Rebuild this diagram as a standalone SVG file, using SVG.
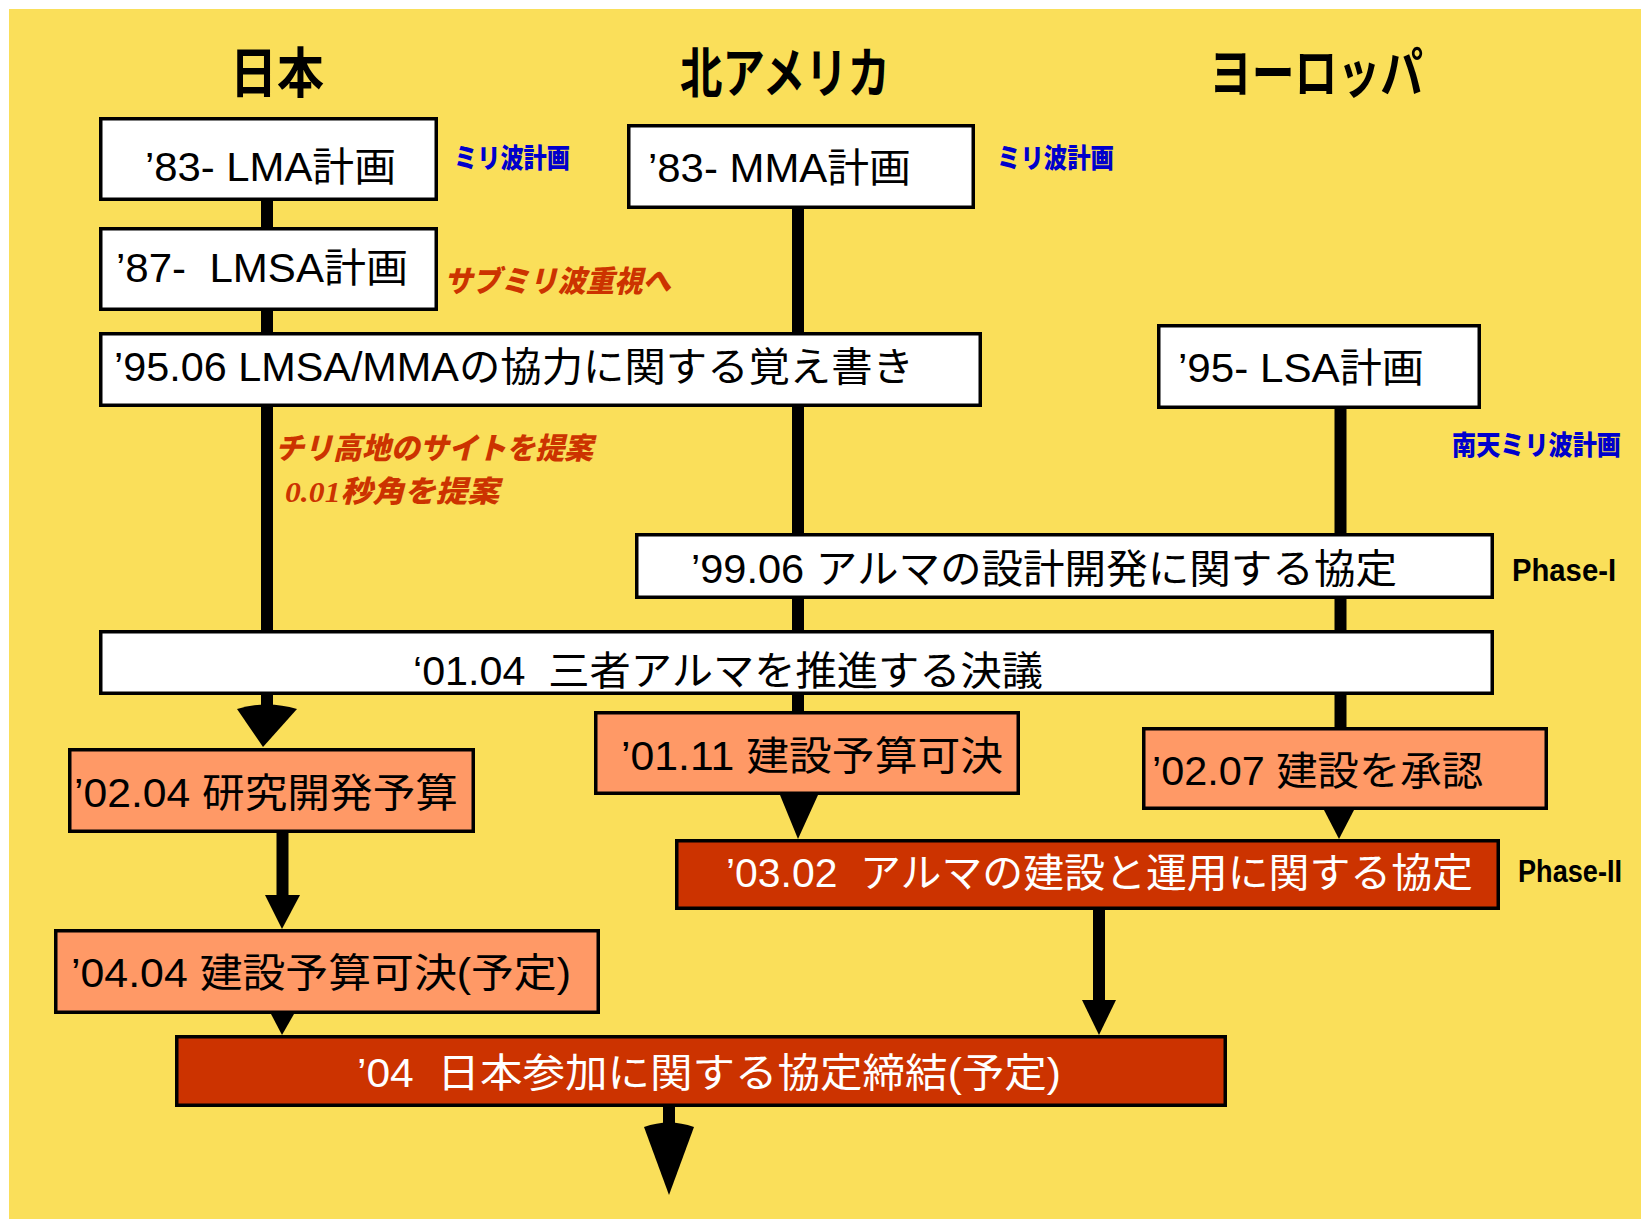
<svg xmlns="http://www.w3.org/2000/svg" width="1641" height="1219" viewBox="0 0 1641 1219">
<style>
.bx{stroke:#000;stroke-width:3.5}
.w{fill:#fff}
.s{fill:#FF9966}
.d{fill:#CC3300}
.t{font-family:"Liberation Sans","Noto Sans CJK JP",sans-serif;font-size:40px;fill:#000}
.tw{fill:#fff}
.hd{font-family:"Noto Sans CJK JP","Liberation Sans",sans-serif;font-size:54px;font-weight:bold;fill:#000}
.bl{font-family:"Noto Sans CJK JP",sans-serif;font-size:27px;font-weight:900;fill:#0000CC}
.rd{font-family:"Noto Sans CJK JP",sans-serif;font-size:30px;font-weight:900;font-style:italic;fill:#CC3300}
.ph{font-family:"Liberation Sans",sans-serif;font-size:32px;font-weight:bold;fill:#000}
.ln{stroke:#000;stroke-width:12;fill:none}
.ah{fill:#000}
</style>
<rect x="9" y="9" width="1632" height="1210" fill="#FADF5A"/>

<g id="headers">
<text class="hd" x="230" y="93" textLength="94" lengthAdjust="spacingAndGlyphs">日本</text>
<text class="hd" x="680" y="93" textLength="210" lengthAdjust="spacingAndGlyphs">北アメリカ</text>
<text class="hd" x="1209" y="93" textLength="214" lengthAdjust="spacingAndGlyphs">ヨーロッパ</text>
</g>

<g id="connectors">
<line class="ln" x1="267" y1="201" x2="267" y2="227"/>
<line class="ln" x1="267" y1="311" x2="267" y2="332"/>
<line class="ln" x1="267" y1="407" x2="267" y2="630"/>
<line class="ln" x1="267" y1="695" x2="267" y2="710"/>
<path class="ah" d="M237,709 Q267,700 297,709 L263,747 Z"/>
<line class="ln" x1="798" y1="209" x2="798" y2="332"/>
<line class="ln" x1="798" y1="407" x2="798" y2="533"/>
<line class="ln" x1="798" y1="599" x2="798" y2="630"/>
<line class="ln" x1="798" y1="695" x2="798" y2="711"/>
<line class="ln" x1="1340.5" y1="409" x2="1340.5" y2="533"/>
<line class="ln" x1="1340.5" y1="599" x2="1340.5" y2="630"/>
<line class="ln" x1="1340.5" y1="695" x2="1340.5" y2="727"/>
<line class="ln" x1="282.5" y1="833" x2="282.5" y2="897"/>
<path class="ah" d="M265,895 L300,895 L282,929 Z"/>
<path class="ah" d="M271,1014 L294,1014 L282,1035 Z"/>
<path class="ah" d="M780,795 L818,795 L798,839 Z"/>
<path class="ah" d="M1324,810 L1354,810 L1339,839 Z"/>
<line class="ln" x1="1099" y1="910" x2="1099" y2="1002"/>
<path class="ah" d="M1082,1000 L1116,1000 L1099,1035 Z"/>
<line class="ln" x1="669" y1="1107" x2="669" y2="1126"/>
<path class="ah" d="M644,1127 Q669,1118 694,1127 L669,1195 Z"/>
</g>

<g id="n-lma"><rect class="bx w" x="100.75" y="118.75" width="335.5" height="80.5"/>
<text class="t" x="145" y="181" textLength="251" lengthAdjust="spacingAndGlyphs">’83- LMA計画</text></g>
<g id="n-mma"><rect class="bx w" x="628.75" y="125.75" width="344.5" height="81.5"/>
<text class="t" x="648" y="182" textLength="263" lengthAdjust="spacingAndGlyphs">’83- MMA計画</text></g>
<g id="n-lmsa"><rect class="bx w" x="100.75" y="228.75" width="335.5" height="80.5"/>
<text class="t" x="116" y="282" textLength="292" lengthAdjust="spacingAndGlyphs" xml:space="preserve">’87-  LMSA計画</text></g>
<g id="n-9506"><rect class="bx w" x="100.75" y="333.75" width="879.5" height="71.5"/>
<text class="t" x="114" y="381" textLength="800" lengthAdjust="spacingAndGlyphs">’95.06 LMSA/MMAの協力に関する覚え書き</text></g>
<g id="n-lsa"><rect class="bx w" x="1158.75" y="325.75" width="320.5" height="81.5"/>
<text class="t" x="1178" y="382" textLength="246" lengthAdjust="spacingAndGlyphs">’95- LSA計画</text></g>
<g id="n-9906"><rect class="bx w" x="636.75" y="534.75" width="855.5" height="62.5"/>
<text class="t" x="691" y="583" textLength="706" lengthAdjust="spacingAndGlyphs">’99.06 アルマの設計開発に関する協定</text></g>
<g id="n-0104"><rect class="bx w" x="100.75" y="631.75" width="1391.5" height="61.5"/>
<text class="t" x="413" y="685" textLength="630" lengthAdjust="spacingAndGlyphs" xml:space="preserve">‘01.04  三者アルマを推進する決議</text></g>
<g id="n-0204"><rect class="bx s" x="69.75" y="749.75" width="403.5" height="81.5"/>
<text class="t" x="74" y="807" textLength="384" lengthAdjust="spacingAndGlyphs">’02.04 研究開発予算</text></g>
<g id="n-0111"><rect class="bx s" x="595.75" y="712.75" width="422.5" height="80.5"/>
<text class="t" x="621" y="770" textLength="382" lengthAdjust="spacingAndGlyphs">’01.11 建設予算可決</text></g>
<g id="n-0207"><rect class="bx s" x="1143.75" y="728.75" width="402.5" height="79.5"/>
<text class="t" x="1152" y="785" textLength="331" lengthAdjust="spacingAndGlyphs">’02.07 建設を承認</text></g>
<g id="n-0302"><rect class="bx d" x="676.75" y="840.75" width="821.5" height="67.5"/>
<text class="t tw" x="726" y="887" textLength="747" lengthAdjust="spacingAndGlyphs" xml:space="preserve">’03.02  アルマの建設と運用に関する協定</text></g>
<g id="n-0404"><rect class="bx s" x="55.75" y="930.75" width="542.5" height="81.5"/>
<text class="t" x="71" y="987" textLength="500" lengthAdjust="spacingAndGlyphs">’04.04 建設予算可決(予定)</text></g>
<g id="n-04"><rect class="bx d" x="176.75" y="1036.75" width="1048.5" height="68.5"/>
<text class="t tw" x="357" y="1087" textLength="704" lengthAdjust="spacingAndGlyphs" xml:space="preserve">’04  日本参加に関する協定締結(予定)</text></g>

<g id="annotations">
<text class="bl" x="454" y="168" textLength="116" lengthAdjust="spacingAndGlyphs">ミリ波計画</text>
<text class="bl" x="997" y="168" textLength="117" lengthAdjust="spacingAndGlyphs">ミリ波計画</text>
<text class="bl" x="1452" y="455" textLength="169" lengthAdjust="spacingAndGlyphs">南天ミリ波計画</text>
<text class="rd" x="444" y="292" textLength="227" lengthAdjust="spacingAndGlyphs">サブミリ波重視へ</text>
<text class="rd" x="275" y="459" textLength="318" lengthAdjust="spacingAndGlyphs">チリ高地のサイトを提案</text>
<text class="rd" x="285" y="502" textLength="214" lengthAdjust="spacingAndGlyphs"><tspan font-family="Liberation Serif" font-weight="bold">0.01</tspan>秒角を提案</text>
<text class="ph" x="1512" y="581" textLength="104" lengthAdjust="spacingAndGlyphs">Phase-I</text>
<text class="ph" x="1518" y="882" textLength="104" lengthAdjust="spacingAndGlyphs">Phase-II</text>
</g>
</svg>
